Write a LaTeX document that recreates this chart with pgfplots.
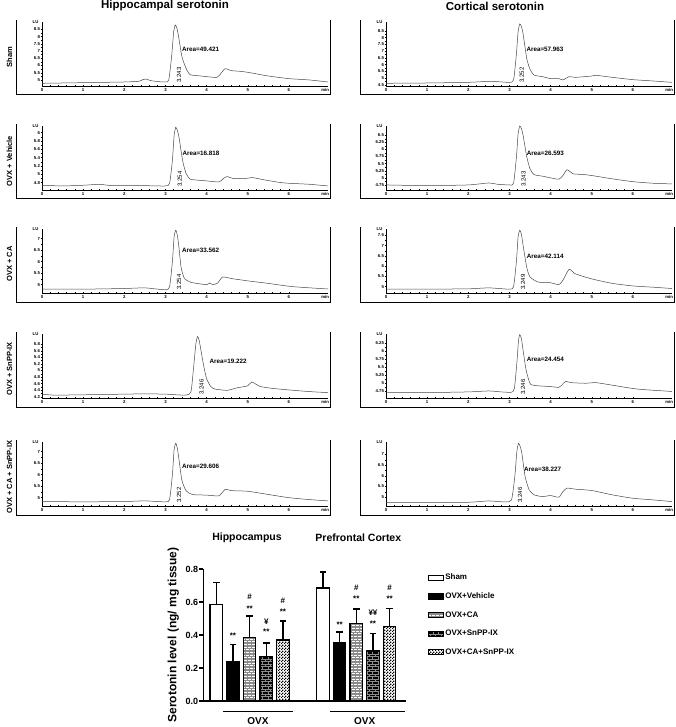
\documentclass[border=0pt]{standalone}
\usepackage{fontspec}
\setmainfont{Liberation Sans}
\usepackage{pgfplots}
\pgfplotsset{compat=1.18}
\usetikzlibrary{patterns}

\pgfdeclarepatternformonly{mybricks}{\pgfqpoint{-0.5pt}{-0.5pt}}{\pgfqpoint{4.5pt}{3.7pt}}{\pgfqpoint{4pt}{3.2pt}}{%
 \pgfsetlinewidth{0.5pt}%
 \pgfpathmoveto{\pgfqpoint{0pt}{0.4pt}}\pgfpathlineto{\pgfqpoint{4pt}{0.4pt}}%
 \pgfpathmoveto{\pgfqpoint{0pt}{2pt}}\pgfpathlineto{\pgfqpoint{4pt}{2pt}}%
 \pgfpathmoveto{\pgfqpoint{1pt}{0.4pt}}\pgfpathlineto{\pgfqpoint{1pt}{2pt}}%
 \pgfpathmoveto{\pgfqpoint{3pt}{2pt}}\pgfpathlineto{\pgfqpoint{3pt}{3.6pt}}%
 \pgfusepath{stroke}}
\pgfdeclarepatternformonly{widebricks}{\pgfqpoint{-0.5pt}{-0.5pt}}{\pgfqpoint{6pt}{5.4pt}}{\pgfqpoint{5.5pt}{5pt}}{%
 \pgfsetlinewidth{0.4pt}%
 \pgfpathmoveto{\pgfqpoint{0pt}{0.5pt}}\pgfpathlineto{\pgfqpoint{5.5pt}{0.5pt}}%
 \pgfpathmoveto{\pgfqpoint{0pt}{3pt}}\pgfpathlineto{\pgfqpoint{5.5pt}{3pt}}%
 \pgfpathmoveto{\pgfqpoint{1pt}{0.5pt}}\pgfpathlineto{\pgfqpoint{1pt}{3pt}}%
 \pgfpathmoveto{\pgfqpoint{3.75pt}{3pt}}\pgfpathlineto{\pgfqpoint{3.75pt}{5.5pt}}%
 \pgfusepath{stroke}}
\pgfdeclarepatternformonly{mycheck}{\pgfqpoint{0pt}{0pt}}{\pgfqpoint{2.6pt}{2.6pt}}{\pgfqpoint{2.6pt}{2.6pt}}{%
 \pgfpathrectangle{\pgfqpoint{0pt}{0pt}}{\pgfqpoint{1.3pt}{1.3pt}}%
 \pgfpathrectangle{\pgfqpoint{1.3pt}{1.3pt}}{\pgfqpoint{1.3pt}{1.3pt}}%
 \pgfusepath{fill}}

\pgfplotsset{
  chrom/.style={
    scale only axis, width=286pt, height=64pt,
    xmin=0, xmax=6.95, ymin=0, ymax=1,
    axis x line=bottom, axis y line=left,
    axis line style={line width=0.6pt,-},
    xtick={0,1,...,6}, minor x tick num=4, minor y tick num=1,
    major tick length=2.6pt, minor tick length=1.5pt,
    tick align=center, tick style={line width=0.4pt, black},
    ticklabel style={font=\fontsize{4.3pt}{5pt}\selectfont\bfseries, inner sep=0.6pt},
    /pgf/number format/assume math mode=true,
    clip=false, anchor=south west,
    after end axis/.code={
      \draw[line width=0.9pt, black] (rel axis cs:-0.09,1.03) -- (rel axis cs:-0.09,-0.14) -- (rel axis cs:1.007,-0.14) -- (rel axis cs:1.007,1.03);
      \node[font=\fontsize{4.3pt}{5pt}\selectfont\bfseries, inner sep=0pt, anchor=east] at (rel axis cs:-0.012,1.0) {LU};
      \node[font=\fontsize{4.3pt}{5pt}\selectfont\bfseries, inner sep=0pt, anchor=north east] at (rel axis cs:1.004,-0.03) {min};
    }
  },
  chromline/.style={line width=0.5pt, color=black!72, mark=none, smooth, tension=0.35},
  barplot/.style={ybar, bar width=12.5pt, bar shift=0pt, draw=black, line width=1.2pt,
    legend image code/.code={\draw[##1,/tikz/.cd,line width=1pt] (0pt,-2.6pt) rectangle (15pt,2.6pt);},
    error bars/y dir=plus, error bars/y explicit,
    error bars/error bar style={line width=1.2pt, black},
    error bars/error mark options={rotate=90, mark size=3.2pt, line width=1.2pt, black}}
}

\newcommand\chrommarks[5]{%
  \node[anchor=west, font=\fontsize{6.3pt}{7pt}\selectfont\bfseries, inner sep=0pt] at (axis cs:#3,#5) {Area=#1};
  \node[rotate=90, anchor=west, font=\fontsize{6pt}{7pt}\selectfont, inner sep=0pt] at (axis cs:#4,0.05) {#2};
}

\begin{document}
\begin{tikzpicture}
\useasboundingbox (0,0) rectangle (676pt,727pt);

% ---------- Left column: hippocampal ----------
\begin{axis}[chrom, at={(42pt,641pt)},
  ytick={0.094,0.207,0.32,0.433,0.546,0.659,0.772,0.885}, yticklabels={5,5.5,6,6.5,7,7.5,8,8.5}]
\addplot[chromline] coordinates {(0,0.042)(0.5,0.047)(1,0.052)(1.5,0.057)(2,0.0625)(2.35,0.073)(2.45,0.1)(2.52,0.109)(2.65,0.083)(2.8,0.07)(3.0,0.0625)(3.08,0.094)(3.15,0.46)(3.2,0.85)(3.24,0.953)(3.28,0.9)(3.32,0.77)(3.4,0.46)(3.5,0.276)(3.6,0.177)(3.8,0.16)(4.0,0.146)(4.25,0.135)(4.35,0.198)(4.45,0.27)(4.6,0.24)(4.8,0.23)(5.0,0.214)(5.5,0.156)(6.0,0.115)(6.5,0.094)(6.95,0.0625)};
\chrommarks{49.421}{3.243}{3.4}{3.33}{0.57}
\end{axis}

\begin{axis}[chrom, at={(42pt,537pt)},
  ytick={0.116,0.246,0.376,0.506,0.636,0.766,0.896}, yticklabels={4.8,5,5.2,5.4,5.6,5.8,6}]
\addplot[chromline] coordinates {(0,0.074)(0.5,0.063)(1,0.074)(1.4,0.089)(1.6,0.074)(2,0.074)(2.5,0.068)(3.0,0.063)(3.1,0.105)(3.17,0.47)(3.21,0.85)(3.25,0.98)(3.29,0.93)(3.33,0.82)(3.42,0.45)(3.5,0.26)(3.6,0.17)(3.8,0.153)(4.0,0.142)(4.3,0.126)(4.42,0.184)(4.5,0.21)(4.65,0.179)(5.0,0.184)(5.1,0.195)(5.5,0.147)(5.8,0.116)(6.0,0.105)(6.5,0.089)(6.95,0.063)};
\chrommarks{16.818}{3.254}{3.41}{3.35}{0.57}
\end{axis}

\begin{axis}[chrom, at={(42pt,434pt)},
  ytick={0.13,0.31,0.49,0.67,0.85}, yticklabels={5,5.5,6,6.5,7}]
\addplot[chromline] coordinates {(0,0.0625)(1,0.06)(2,0.07)(2.5,0.08)(3.0,0.05)(3.1,0.1)(3.17,0.5)(3.21,0.88)(3.25,0.98)(3.29,0.9)(3.33,0.7)(3.38,0.4)(3.46,0.23)(3.62,0.166)(4.0,0.13)(4.07,0.156)(4.15,0.13)(4.27,0.156)(4.39,0.25)(4.63,0.223)(5.11,0.18)(5.43,0.156)(6.08,0.1)(6.95,0.0625)};
\chrommarks{33.562}{3.254}{3.4}{3.33}{0.66}
\end{axis}

\begin{axis}[chrom, at={(42pt,329pt)},
  ytick={0.02,0.1225,0.225,0.3275,0.43,0.5325,0.635,0.7375,0.84}, yticklabels={4.2,4.4,4.6,4.8,5,5.2,5.4,5.6,5.8}]
\addplot[chromline] coordinates {(0,0.06)(0.3,0.045)(1,0.05)(2,0.06)(2.5,0.065)(3.0,0.06)(3.5,0.045)(3.62,0.1)(3.68,0.45)(3.74,0.85)(3.78,0.96)(3.82,0.9)(3.88,0.68)(3.93,0.5)(4.0,0.3)(4.1,0.18)(4.2,0.14)(4.5,0.12)(4.75,0.16)(5.0,0.19)(5.1,0.25)(5.3,0.18)(5.6,0.15)(6.0,0.126)(6.5,0.1)(6.95,0.084)};
\chrommarks{19.222}{3.246}{4.07}{3.88}{0.57}
\end{axis}

\begin{axis}[chrom, at={(42pt,221pt)},
  ytick={0.13,0.31,0.49,0.67,0.85}, yticklabels={5,5.5,6,6.5,7}]
\addplot[chromline] coordinates {(0,0.07)(1,0.065)(2,0.07)(2.5,0.08)(3.0,0.065)(3.1,0.1)(3.17,0.5)(3.21,0.88)(3.25,0.98)(3.29,0.9)(3.33,0.72)(3.4,0.4)(3.5,0.24)(3.65,0.18)(4.0,0.17)(4.3,0.16)(4.45,0.26)(4.6,0.24)(5.0,0.23)(5.5,0.18)(6.0,0.13)(6.5,0.1)(6.95,0.08)};
\chrommarks{29.606}{3.252}{3.4}{3.33}{0.62}
\end{axis}

% ---------- Right column: cortical ----------
\begin{axis}[chrom, at={(386pt,641pt)},
  ytick={0.02,0.125,0.23,0.335,0.44,0.545,0.65,0.755,0.86}, yticklabels={4.5,5,5.5,6,6.5,7,7.5,8,8.5}]
\addplot[chromline] coordinates {(0,0.042)(1,0.047)(2,0.057)(2.4,0.07)(2.5,0.073)(2.7,0.068)(3.0,0.057)(3.1,0.094)(3.17,0.51)(3.21,0.85)(3.25,0.97)(3.29,0.93)(3.33,0.82)(3.42,0.43)(3.5,0.26)(3.6,0.17)(3.8,0.146)(4.0,0.115)(4.2,0.115)(4.3,0.094)(4.45,0.146)(4.6,0.135)(5.0,0.156)(5.1,0.167)(5.5,0.135)(6.0,0.099)(6.5,0.078)(6.95,0.057)};
\chrommarks{57.963}{3.252}{3.41}{3.3}{0.57}
\end{axis}

\begin{axis}[chrom, at={(386pt,537pt)},
  ytick={0.079,0.19,0.301,0.412,0.523,0.634,0.745,0.856}, yticklabels={4.75,5,5.25,5.5,5.75,6,6.25,6.5}]
\addplot[chromline] coordinates {(0,0.079)(1,0.068)(2,0.079)(2.5,0.11)(2.7,0.09)(3.0,0.079)(3.1,0.105)(3.17,0.52)(3.21,0.88)(3.25,1.0)(3.29,0.96)(3.33,0.86)(3.42,0.52)(3.5,0.33)(3.6,0.24)(3.8,0.216)(4.0,0.19)(4.2,0.168)(4.3,0.226)(4.4,0.316)(4.55,0.253)(4.8,0.242)(5.0,0.226)(5.5,0.174)(6.0,0.13)(6.5,0.105)(6.95,0.095)};
\chrommarks{26.593}{3.243}{3.42}{3.34}{0.58}
\end{axis}

\begin{axis}[chrom, at={(386pt,434pt)},
  ytick={0.1,0.26,0.42,0.58,0.74,0.9}, yticklabels={5,5.5,6,6.5,7,7.5}]
\addplot[chromline] coordinates {(0,0.06)(1,0.06)(2,0.065)(2.5,0.08)(3.0,0.06)(3.1,0.1)(3.17,0.5)(3.21,0.88)(3.25,0.98)(3.29,0.92)(3.33,0.75)(3.42,0.4)(3.5,0.25)(3.7,0.17)(4.0,0.16)(4.2,0.13)(4.3,0.2)(4.45,0.37)(4.6,0.3)(5.0,0.22)(5.5,0.15)(6.0,0.11)(6.5,0.09)(6.95,0.07)};
\chrommarks{42.114}{3.249}{3.42}{3.33}{0.58}
\end{axis}

\begin{axis}[chrom, at={(386pt,329pt)},
  ytick={0.105,0.23,0.355,0.48,0.605,0.73,0.855}, yticklabels={4.75,5,5.25,5.5,5.75,6,6.25}]
\addplot[chromline] coordinates {(0,0.09)(1,0.085)(2,0.095)(2.5,0.11)(2.8,0.095)(3.05,0.09)(3.12,0.15)(3.18,0.55)(3.22,0.9)(3.25,0.99)(3.29,0.93)(3.33,0.75)(3.4,0.45)(3.47,0.28)(3.52,0.21)(3.7,0.19)(3.97,0.18)(4.2,0.167)(4.3,0.22)(4.37,0.26)(4.5,0.24)(4.85,0.23)(5.1,0.24)(5.5,0.2)(6.1,0.14)(6.87,0.105)(6.95,0.1)};
\chrommarks{24.454}{3.246}{3.42}{3.33}{0.6}
\end{axis}

\begin{axis}[chrom, at={(386pt,221pt)},
  ytick={0.137,0.304,0.471,0.638,0.805}, yticklabels={5,5.5,6,6.5,7}]
\addplot[chromline] coordinates {(0,0.053)(1,0.053)(2,0.058)(2.5,0.079)(2.9,0.063)(3.05,0.095)(3.13,0.46)(3.18,0.85)(3.22,0.98)(3.26,0.93)(3.3,0.83)(3.38,0.46)(3.48,0.25)(3.6,0.174)(3.8,0.147)(4.0,0.163)(4.2,0.137)(4.3,0.226)(4.4,0.279)(4.6,0.263)(5.0,0.242)(5.5,0.174)(6.0,0.121)(6.5,0.095)(6.95,0.068)};
\chrommarks{38.227}{3.246}{3.35}{3.26}{0.58}
\end{axis}

% ---------- Bar chart ----------
\begin{axis}[at={(203.3pt,26pt)}, anchor=south west, scale only axis, width=203pt, height=132pt,
  xmin=0.22, xmax=12.4, ymin=0, ymax=0.8,
  axis x line=bottom, axis y line=left, axis line style={line width=1.5pt,-},
  xtick=\empty, ytick={0,0.2,0.4,0.6,0.8},
  yticklabel style={font=\fontsize{9pt}{10pt}\selectfont\bfseries, /pgf/number format/fixed, /pgf/number format/fixed zerofill, /pgf/number format/precision=1, inner sep=1pt},
  /pgf/number format/assume math mode=true,
  tick style={line width=1.5pt, black}, major tick length=4pt, tick align=outside,
  ylabel={Serotonin level (ng/ mg tissue)},
  ylabel style={at={(rel axis cs:-0.148,0.5)}, anchor=center, font=\fontsize{12pt}{13pt}\selectfont\bfseries},
  clip=false,
  legend style={at={(rel axis cs:1.105,0.975)}, anchor=north west, draw=none, fill=none,
    font=\fontsize{8pt}{9pt}\selectfont\bfseries, row sep=8.5pt, inner sep=0pt, nodes={inner sep=1.5pt}},
  legend cell align=left,
]
\addplot[barplot, fill=white] coordinates {(1,0.585) +- (0,0.133) (7.4,0.685) +- (0,0.097)};
\addlegendentry{Sham}
\addplot[barplot, fill=black] coordinates {(2,0.238) +- (0,0.104) (8.4,0.353) +- (0,0.065)};
\addlegendentry{OVX+Vehicle}
\addplot[barplot, fill=white, postaction={pattern=mybricks, pattern color=black!45}] coordinates {(3,0.384) +- (0,0.131) (9.4,0.47) +- (0,0.087)};
\addlegendentry{OVX+CA}
\addplot[barplot, fill=black, postaction={pattern=widebricks, pattern color=black!45}] coordinates {(4,0.27) +- (0,0.082) (10.4,0.303) +- (0,0.107)};
\addlegendentry{OVX+SnPP-IX}
\addplot[barplot, fill=white, postaction={pattern=mycheck, pattern color=black}] coordinates {(5,0.37) +- (0,0.115) (11.4,0.45) +- (0,0.112)};
\addlegendentry{OVX+CA+SnPP-IX}

\node[font=\fontsize{10.5pt}{12pt}\selectfont\bfseries] at (axis cs:2.84,0.988) {Hippocampus};
\node[font=\fontsize{10.5pt}{12pt}\selectfont\bfseries] at (axis cs:9.52,0.988) {Prefrontal Cortex};

\begin{scope}[every node/.style={font=\fontsize{8pt}{9pt}\selectfont\bfseries, inner sep=0pt}]
\node at (axis cs:2,0.395) {**};
\node at (axis cs:3,0.56) {**};
\node at (axis cs:3,0.63) {\#};
\node at (axis cs:4,0.42) {**};
\node at (axis cs:4,0.48) {¥};
\node at (axis cs:5,0.54) {**};
\node at (axis cs:5,0.61) {\#};
\node at (axis cs:8.4,0.465) {**};
\node at (axis cs:9.4,0.618) {**};
\node at (axis cs:9.4,0.687) {\#};
\node at (axis cs:10.4,0.47) {**};
\node at (axis cs:10.4,0.535) {¥¥};
\node at (axis cs:11.4,0.618) {**};
\node at (axis cs:11.4,0.689) {\#};
\end{scope}

\draw[line width=1.3pt] (axis cs:1.42,-0.065) -- (axis cs:5.62,-0.065);
\draw[line width=1.3pt] (axis cs:7.84,-0.065) -- (axis cs:12.34,-0.065);
\node[font=\fontsize{10pt}{12pt}\selectfont\bfseries] at (axis cs:3.5,-0.12) {OVX};
\node[font=\fontsize{10pt}{12pt}\selectfont\bfseries] at (axis cs:9.9,-0.12) {OVX};
\end{axis}

% ---------- Titles and row labels ----------
\node[font=\fontsize{11.5pt}{12pt}\selectfont\bfseries] at (165pt,721pt) {Hippocampal serotonin};
\node[font=\fontsize{11.5pt}{12pt}\selectfont\bfseries] at (495pt,721pt) {Cortical serotonin};
\begin{scope}[every node/.style={font=\fontsize{7.5pt}{8pt}\selectfont\bfseries, rotate=90, inner sep=0pt}]
\node at (9.5pt,670pt) {Sham};
\node at (9.5pt,566pt) {OVX + Vehicle};
\node at (9.5pt,463pt) {OVX + CA};
\node at (9.5pt,358pt) {OVX + SnPP-IX};
\node at (9.5pt,250pt) {OVX + CA + SnPP-IX};
\end{scope}
\end{tikzpicture}
\end{document}
